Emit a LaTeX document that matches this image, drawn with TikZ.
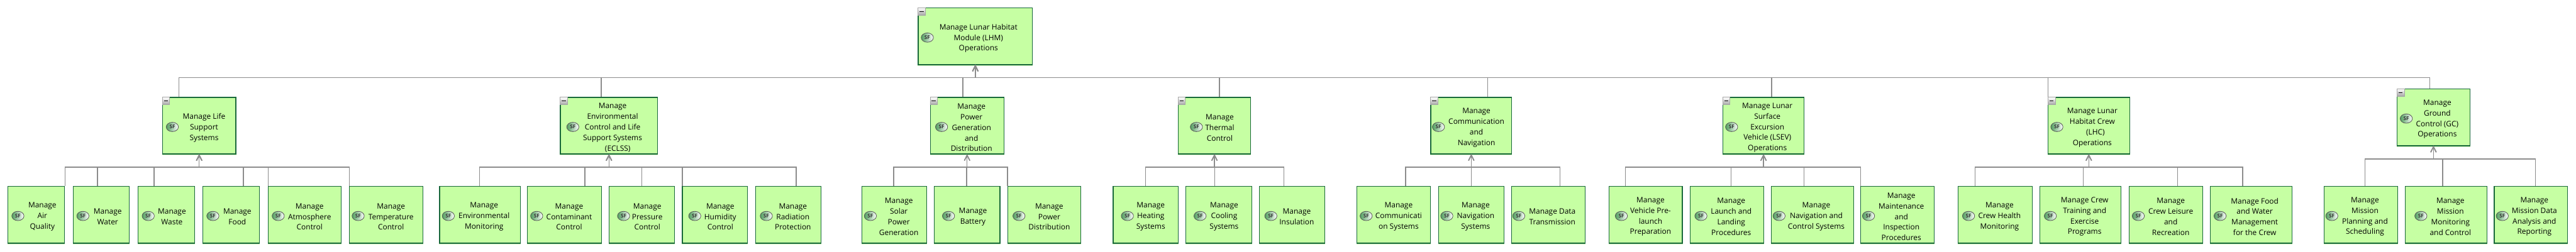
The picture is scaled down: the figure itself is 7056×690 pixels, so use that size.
\documentclass[tikz,border=0pt]{standalone}
\usepackage{fontspec}
\usepackage{xcolor}
\usetikzlibrary{arrows.meta,shapes.geometric,shadings}
\setmainfont{Open Sans}
\setsansfont{Open Sans}

\definecolor{fnfill}{HTML}{C6FFA3}
\definecolor{fnedge}{HTML}{18683A}
\definecolor{fnglow}{HTML}{DAFFC2}
\definecolor{linkgray}{HTML}{8C8C8C}
\definecolor{iconleft}{HTML}{4F9E5C}

\tikzset{
  fnbox/.style={rectangle, fill=fnfill, draw=fnedge, line width=1.15pt, inner sep=0pt},
  fntext/.style={align=center, inner sep=0pt, text=black, font=\fontsize{11.7}{16.44}\selectfont},
  sficon/.style={ellipse, left color=iconleft, right color=white, draw=black!65, line width=0.8pt,
    minimum width=19pt, minimum height=14.5pt, inner sep=0pt, font=\sffamily\bfseries\fontsize{8}{8}\selectfont, text=black!80},
  minusbox/.style={rectangle, top color=white, bottom color=black!35, draw=black!35, line width=0.7pt,
    minimum size=11.3pt, inner sep=0pt},
  link/.style={draw=linkgray, line width=1.4pt, -{Straight Barb[length=8.5pt,width=8.5pt]}},
}

% name, left, right, top, icon x, text x, text
\newcommand{\fnnode}[7]{
  \node[fnbox, minimum width={(#3-#2)*0.02cm}, minimum height=154.5*0.02cm] (#1) at ({(#2+#3)/2},{#4+77.25}) {};
  \draw[fnglow, line width=0.9pt] ([yshift=-1.3pt]#1.south west) -- ([yshift=-1.3pt]#1.south east);
  \draw[fnedge, line width=1.5pt] (#1.south west) -- (#1.south east);
  \node[sficon] (#1icon) at (#5,{#4+81}) {SF};
  \node[fntext] (#1text) at (#6,{#4+83}) {#7};
}
% collapse control on the corner of a box
\newcommand{\collapsed}[1]{
  \node[minusbox, anchor=north west] (#1minus) at (#1.north west) {\rule{6.2pt}{1.2pt}};
}
% kid, x of the drop, parent, y of the bus
\newcommand{\linkup}[4]{
  \draw[link] (#1.north -| #2,0) -- (#2,#4) -| (#3.south);
}

\begin{document}
\begin{tikzpicture}[x=0.02cm,y=-0.02cm]
\useasboundingbox (0,0) rectangle (7056,690);

% top
\fnnode{lhm}{2515}{2828}{22}{2540}{2680}{Manage Lunar Habitat\\Module (LHM)\\Operations}

% second row
\fnnode{life}{445}{646}{267}{472}{559}{Manage Life\\Support\\Systems}
\fnnode{eclss}{1535}{1801}{267}{1569}{1678}{Manage\\Environmental\\Control and Life\\Support Systems\\\hspace*{16pt}(ECLSS)}
\fnnode{power}{2548}{2750}{267}{2579}{2661}{Manage\\Power\\Generation\\and\\Distribution}
\fnnode{thermal}{3227}{3426}{267}{3277}{3341}{Manage\\Thermal\\Control}
\fnnode{comm}{3919}{4141}{267}{3940}{4044}{Manage\\Communication\\and\\Navigation}
\fnnode{lsev}{4719}{4942}{267}{4743}{4841}{Manage Lunar\\Surface\\Excursion\\Vehicle (LSEV)\\Operations}
\fnnode{lhc}{5610}{5833}{267}{5634}{5731}{Manage Lunar\\Habitat Crew\\\hspace*{10pt}(LHC)\\Operations}
\fnnode{gc}{6566}{6765}{244}{6591}{6676}{Manage\\Ground\\Control (GC)\\Operations}
\foreach \n in {lhm,life,eclss,power,thermal,comm,lsev,lhc,gc} {\collapsed{\n}}

% life support
\fnnode{air}{21}{176}{511}{49}{116}{Manage\\Air\\Quality}
\fnnode{water}{200}{354}{511}{227}{295}{Manage\\Water}
\fnnode{waste}{378}{533}{511}{406}{471}{Manage\\Waste}
\fnnode{food}{556}{711}{511}{583}{650}{Manage\\Food}
\fnnode{atmos}{734}{935}{511}{762}{848}{Manage\\Atmosphere\\Control}
\fnnode{temp}{957}{1158}{511}{981}{1071}{Manage\\Temperature\\Control}

% eclss
\fnnode{envmon}{1204}{1426}{511}{1228}{1326}{Manage\\Environmental\\Monitoring}
\fnnode{contam}{1445}{1648}{511}{1470}{1559}{Manage\\Contaminant\\Control}
\fnnode{press}{1669}{1848}{511}{1708}{1773}{Manage\\Pressure\\Control}
\fnnode{humid}{1869}{2048}{511}{1903}{1973}{Manage\\Humidity\\Control}
\fnnode{radia}{2070}{2249}{511}{2099}{2172}{Manage\\Radiation\\Protection}

% power
\fnnode{solar}{2361}{2539}{511}{2384}{2462}{Manage\\Solar\\Power\\Generation}
\fnnode{batt}{2559}{2739}{511}{2598}{2665}{Manage\\Battery}
\fnnode{pdist}{2760}{2961}{511}{2791}{2874}{Manage\\Power\\Distribution}

% thermal
\fnnode{heat}{3049}{3228}{511}{3088}{3152}{Manage\\Heating\\Systems}
\fnnode{cool}{3248}{3429}{511}{3287}{3353}{Manage\\Cooling\\Systems}
\fnnode{insul}{3450}{3629}{511}{3481}{3552}{Manage\\Insulation}

% communication
\fnnode{csys}{3717}{3918}{511}{3742}{3831}{Manage\\Communicati\\on Systems}
\fnnode{nav}{3940}{4119}{511}{3963}{4042}{Manage\\Navigation\\Systems}
\fnnode{data}{4140}{4342}{511}{4160}{4252}{Manage Data\\Transmission}

% lsev
\fnnode{prel}{4407}{4608}{511}{4441}{4521}{Manage\\Vehicle Pre-\\launch\\Preparation}
\fnnode{land}{4630}{4831}{511}{4659}{4742}{Manage\\Launch and\\Landing\\Procedures}
\fnnode{navc}{4852}{5077}{511}{4873}{4975}{Manage\\Navigation and\\Control Systems}
\fnnode{maint}{5096}{5298}{511}{5118}{5208}{Manage\\Maintenance\\and\\Inspection\\Procedures}

% lhc
\fnnode{health}{5364}{5566}{511}{5392}{5477}{Manage\\Crew Health\\Monitoring}
\fnnode{train}{5587}{5810}{511}{5616}{5710}{Manage Crew\\Training and\\Exercise\\Programs}
\fnnode{leis}{5832}{6033}{511}{5857}{5946}{Manage\\Crew Leisure\\and\\Recreation}
\fnnode{fwat}{6054}{6278}{511}{6081}{6176}{Manage Food\\and Water\\Management\\for the Crew}

% ground control
\fnnode{plan}{6366}{6567}{511}{6387}{6478}{Manage\\Mission\\Planning and\\Scheduling}
\fnnode{moni}{6588}{6812}{511}{6631}{6712}{Manage\\Mission\\Monitoring\\and Control}
\fnnode{repo}{6832}{7032}{511}{6854}{6942}{Manage\\Mission Data\\Analysis and\\Reporting}

% connectors
\foreach \kid/\dropx in {life/490,eclss/1647,power/2637,thermal/3340,comm/4075,lsev/4853,lhc/5610,gc/6655} {\linkup{\kid}{\dropx}{lhm}{213}}
\foreach \kid/\dropx in {air/178,water/267,waste/422,food/667,atmos/735,temp/957} {\linkup{\kid}{\dropx}{life}{458}}
\foreach \kid/\dropx in {envmon/1314,contam/1602,press/1758,humid/1869,radia/2181} {\linkup{\kid}{\dropx}{eclss}{458}}
\foreach \kid/\dropx in {solar/2448,batt/2648,pdist/2760} {\linkup{\kid}{\dropx}{power}{458}}
\foreach \kid/\dropx in {heat/3138,cool/3327,insul/3517} {\linkup{\kid}{\dropx}{thermal}{458}}
\foreach \kid/\dropx in {csys/3850,nav/4030,data/4273} {\linkup{\kid}{\dropx}{comm}{458}}
\foreach \kid/\dropx in {prel/4452,land/4742,navc/4941,maint/5096} {\linkup{\kid}{\dropx}{lsev}{458}}
\foreach \kid/\dropx in {health/5410,train/5706,leis/5965,fwat/6143} {\linkup{\kid}{\dropx}{lhc}{458}}
\foreach \kid/\dropx in {plan/6478,moni/6691,repo/6945} {\linkup{\kid}{\dropx}{gc}{436}}
\end{tikzpicture}
\end{document}
